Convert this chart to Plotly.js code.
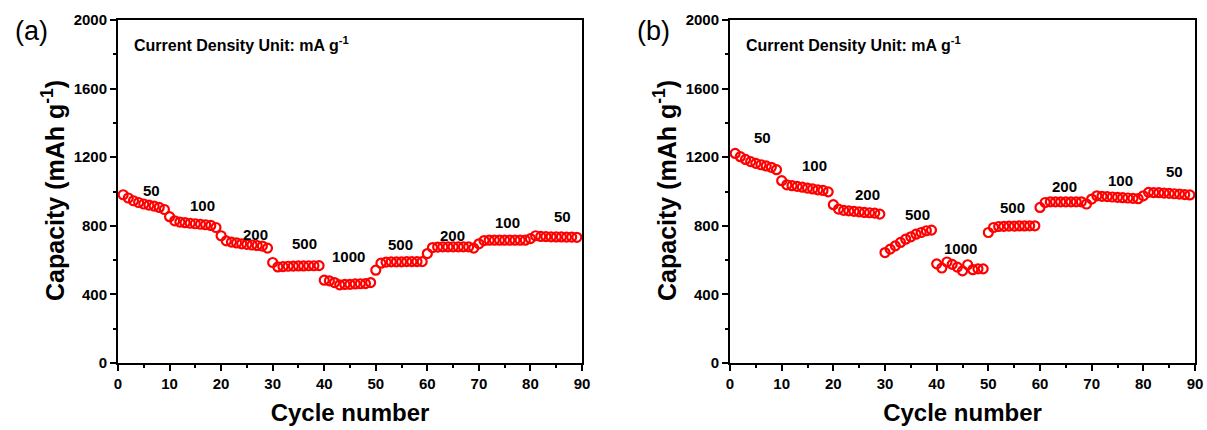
<!DOCTYPE html>
<html>
<head>
<meta charset="utf-8">
<script src="https://cdn.plot.ly/plotly-3.0.1.min.js"></script>
<style>html,body{margin:0;padding:0;background:#fff;}#chart{width:1207px;height:430px;}</style>
</head>
<body>
<div id="chart"></div>
<script>
var cycles = [1,2,3,4,5,6,7,8,9,10,11,12,13,14,15,16,17,18,19,20,21,22,23,24,25,26,27,28,29,30,31,32,33,34,35,36,37,38,39,40,41,42,43,44,45,46,47,48,49,50,51,52,53,54,55,56,57,58,59,60,61,62,63,64,65,66,67,68,69,70,71,72,73,74,75,76,77,78,79,80,81,82,83,84,85,86,87,88,89];

var capacityA = [981,962,946,936,927,921,915,907,895,853,829,822,818,815,812,809,806,802,790,742,712,705,700,695,692,688,685,682,670,586,560,562,564,565,566,566,567,567,568,483,479,469,456,458,459,461,462,463,469,541,582,588,590,590,590,591,591,591,591,638,673,676,677,677,677,677,677,677,670,695,714,716,716,716,716,716,716,716,716,725,742,738,737,736,735,735,734,734,733];

var capacityB = [1222,1203,1187,1174,1164,1156,1149,1141,1127,1063,1039,1034,1030,1025,1020,1015,1010,1006,998,923,897,890,887,884,881,878,876,874,868,644,664,683,703,722,736,751,761,771,775,578,554,589,575,559,537,573,544,549,549,761,790,796,797,798,798,799,799,800,800,907,936,940,940,940,940,940,940,940,927,956,975,972,970,968,966,964,962,960,958,975,995,994,993,991,989,987,985,982,980];

var rateText = ["50","100","200","500","1000","500","200","100","50"];
var labelCycleA = [6.4,16.3,26.7,36.2,44.8,54.7,64.8,75.6,86.3];
var labelCapA = [1004,917,747,697,619,689,741,819,853];
var labelCycleB = [6.3,16.3,26.6,36.2,44.6,54.6,64.8,75.5,86.1];
var labelCapB = [1312,1150,981,868,670,907,1028,1063,1115];

var xTickVals = [0,10,20,30,40,50,60,70,80,90];
var yTickVals = [0,400,800,1200,1600,2000];

var FONT = "Arial, 'Liberation Sans', sans-serif";
var red = "#ff0000";

function scatter(y, xa, ya) {
  return {
    x: cycles, y: y, xaxis: xa, yaxis: ya, type: "scatter", mode: "markers",
    marker: {symbol: "circle-open", size: 9, color: red, line: {color: red, width: 2.2}},
    cliponaxis: false, showlegend: false, hoverinfo: "x+y"
  };
}

function xAxis(domain, anchor) {
  return {
    domain: domain, anchor: anchor, range: [0, 90], tickvals: xTickVals,
    showline: true, mirror: true, linecolor: "#000", linewidth: 2,
    ticks: "outside", ticklen: 6, tickwidth: 2, tickcolor: "#000",
    minor: {dtick: 5, tick0: 0, ticks: "outside", ticklen: 3, tickwidth: 2, tickcolor: "#000"},
    showgrid: false, zeroline: false,
    tickfont: {family: FONT, size: 15, color: "#000", weight: "bold"},
    title: {text: "Cycle number", font: {family: FONT, size: 24, color: "#000", weight: "bold"}, standoff: 13}
  };
}
function yAxis(anchor) {
  return {
    anchor: anchor, range: [0, 2000], tickvals: yTickVals,
    showline: true, mirror: true, linecolor: "#000", linewidth: 2,
    ticks: "outside", ticklen: 6, tickwidth: 2, tickcolor: "#000",
    minor: {dtick: 200, tick0: 0, ticks: "outside", ticklen: 3, tickwidth: 2, tickcolor: "#000"},
    showgrid: false, zeroline: false,
    tickfont: {family: FONT, size: 15, color: "#000", weight: "bold"}
  };
}

var annotations = [];
function addLabels(xref, yref, xs, ys) {
  for (var i = 0; i < rateText.length; i++) {
    annotations.push({xref: xref, yref: yref, x: xs[i], y: ys[i], text: rateText[i], showarrow: false,
      font: {family: FONT, size: 15, color: "#000", weight: "bold"}});
  }
}
addLabels("x", "y", labelCycleA, labelCapA);
addLabels("x2", "y2", labelCycleB, labelCapB);

var W = 1077, H = 343;
function px(p) { return (p - 118) / W; }
function py(p) { return (363 - p) / H; }

var panelInfo = [
  {tag: "(a)", tagX: 31, yTitleX: 53, noteX: 132},
  {tag: "(b)", tagX: 653, yTitleX: 665, noteX: 744}
];
panelInfo.forEach(function (p) {
  annotations.push({xref: "paper", yref: "paper", x: px(p.tagX), y: py(31), text: p.tag, showarrow: false,
    xanchor: "center", yanchor: "middle", font: {family: FONT, size: 27, color: "#000"}});
  annotations.push({xref: "paper", yref: "paper", x: px(p.yTitleX), y: py(191), text: "Capacity (mAh g<sup>-1</sup>)",
    showarrow: false, textangle: -90, xanchor: "center", yanchor: "middle",
    font: {family: FONT, size: 25, color: "#000", weight: "bold"}});
  annotations.push({xref: "paper", yref: "paper", x: px(p.noteX), y: py(44), text: "Current Density Unit: mA g<sup>-1</sup>",
    showarrow: false, xanchor: "left", yanchor: "middle", font: {family: FONT, size: 16, color: "#000", weight: "bold"}});
});

var layout = {
  width: 1207, height: 430,
  margin: {l: 118, r: 12, t: 20, b: 67},
  paper_bgcolor: "#fff", plot_bgcolor: "#fff",
  xaxis: xAxis([0, px(582)], "y"),
  yaxis: yAxis("x"),
  xaxis2: xAxis([px(730), 1], "y2"),
  yaxis2: yAxis("x2"),
  annotations: annotations,
  showlegend: false
};

Plotly.newPlot("chart", [scatter(capacityA, "x", "y"), scatter(capacityB, "x2", "y2")], layout, {displayModeBar: false, staticPlot: true});
</script>
</body>
</html>
